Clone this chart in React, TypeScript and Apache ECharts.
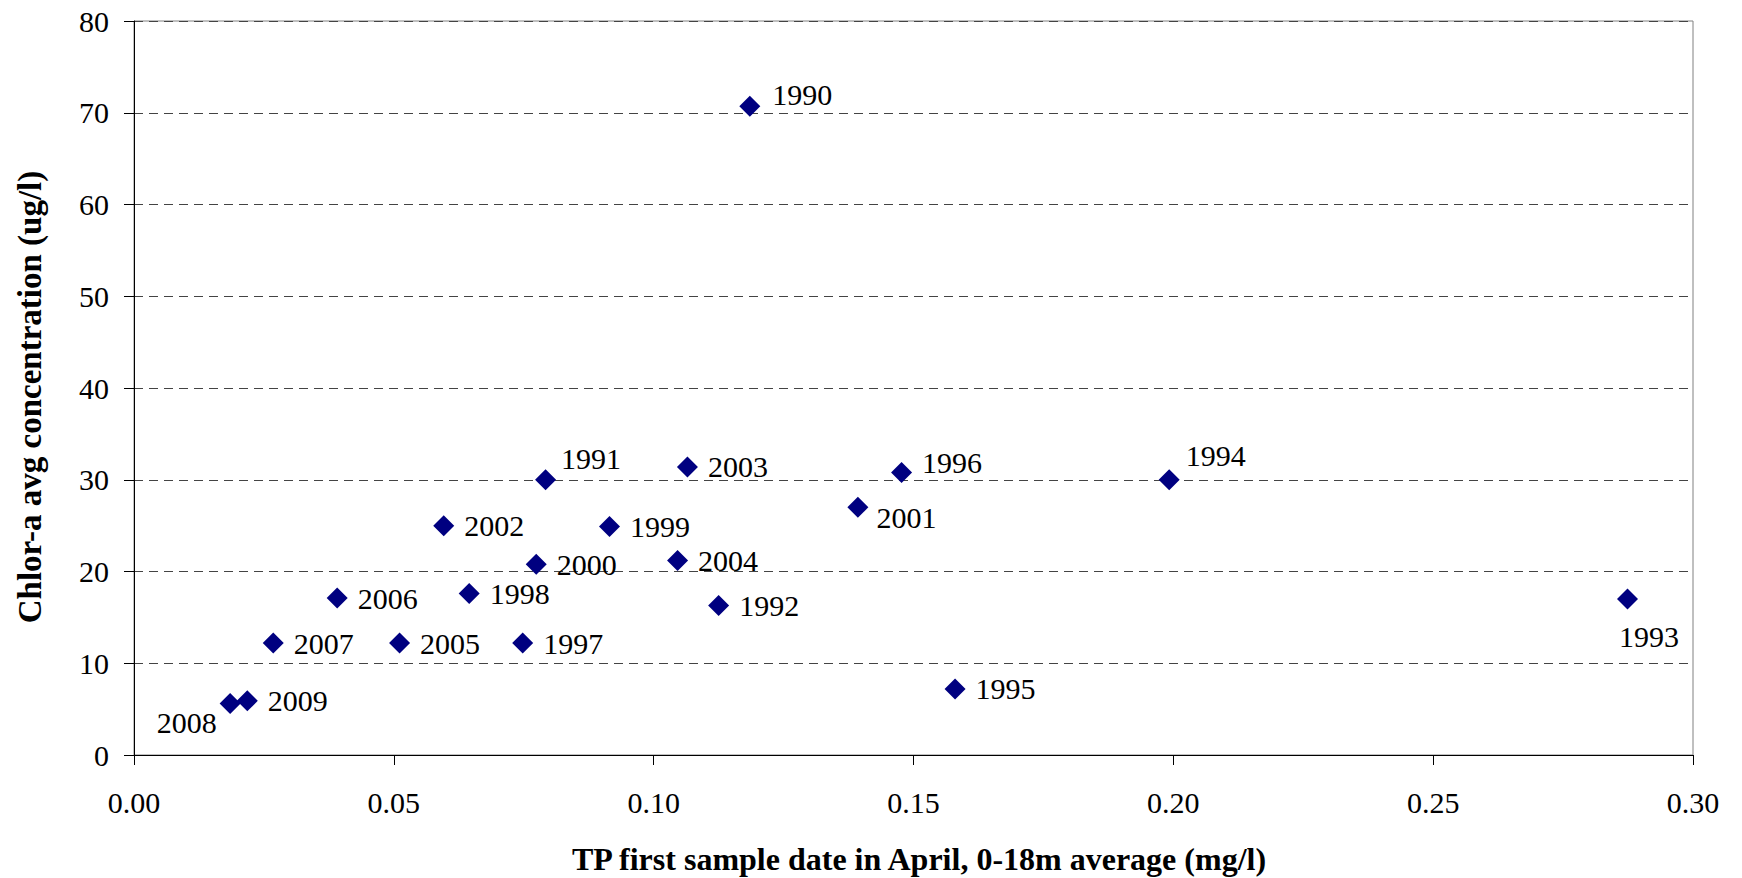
import React, { useEffect, useRef } from "react";
import * as echarts from "echarts";

const years = ["1990","1991","1992","1993","1994","1995","1996","1997","1998","1999","2000","2001","2002","2003","2004","2005","2006","2007","2008","2009"];
const tpValues = [0.1185,0.0792,0.1125,0.2874,0.1992,0.158,0.1477,0.0748,0.0645,0.0915,0.0774,0.1393,0.0596,0.1065,0.1046,0.0511,0.0391,0.0268,0.0185,0.0218];
const chlorValues = [70.7,30.0,16.3,17.0,30.0,7.2,30.8,12.2,17.6,24.9,20.8,27.0,25.0,31.4,21.2,12.2,17.1,12.2,5.6,5.9];
const xTitle = "TP first sample date in April, 0-18m average (mg/l)";
const yTitle = "Chlor-a avg concentration (ug/l)";

const FONT = "'Liberation Serif', 'Times New Roman', serif";

// label placement tweaks per year (position, distance, offset)
const labelTweaks: Record<string, any> = {
  "1990": { position: "right", distance: 12, offset: [0, -12] },
  "1991": { position: "right", distance: 5, offset: [0, -21] },
  "1994": { position: "right", distance: 6, offset: [0, -24] },
  "1996": { position: "right", distance: 10, offset: [0, -10] },
  "2001": { position: "right", distance: 8, offset: [0, 10] },
  "2008": { position: "left", distance: 3, offset: [0, 19] },
  "1993": { position: "right", distance: 10, offset: [-29, 37] },
};

export default function App() {
  const ref = useRef<HTMLDivElement>(null);
  useEffect(() => {
    if (!ref.current) return;
    const chart = echarts.init(ref.current, undefined, { renderer: "svg" });
    const data = years.map((y, i) => {
      const t = labelTweaks[y];
      const d: any = { value: [tpValues[i], chlorValues[i]], name: y };
      if (t) d.label = { ...t };
      return d;
    });
    chart.setOption({
      animation: false,
      backgroundColor: "#ffffff",
      grid: {
        left: 134, right: 49, top: 21, bottom: 123,
        show: true, borderColor: "#808080", borderWidth: 1, backgroundColor: "transparent",
      },
      xAxis: {
        type: "value", min: 0, max: 0.3, interval: 0.05,
        axisLine: { show: true, onZero: false, lineStyle: { color: "#000", width: 1 } },
        axisTick: { show: true, length: 10, inside: false, lineStyle: { color: "#000" } },
        axisLabel: { margin: 32, color: "#000", fontFamily: FONT, fontSize: 30, formatter: (v: number) => v.toFixed(2) },
        splitLine: { show: false },
      },
      yAxis: {
        type: "value", min: 0, max: 80, interval: 10,
        axisLine: { show: true, lineStyle: { color: "#000", width: 1 } },
        axisTick: { show: true, length: 10, inside: false, lineStyle: { color: "#000" } },
        axisLabel: { margin: 25, color: "#000", fontFamily: FONT, fontSize: 30 },
        splitLine: { show: true, lineStyle: { color: "#444", type: [9, 6], width: 1 } },
      },
      graphic: [
        {
          type: "text", x: 919, y: 859,
          style: { text: xTitle, font: `bold 32px ${FONT}`, fill: "#000", align: "center", verticalAlign: "middle" },
        },
        {
          type: "text", x: 30, y: 397, rotation: Math.PI / 2,
          style: { text: yTitle, font: `bold 33px ${FONT}`, fill: "#000", align: "center", verticalAlign: "middle" },
        },
      ],
      series: [
        {
          type: "scatter",
          symbol: "diamond",
          symbolSize: 21,
          itemStyle: { color: "#000080", opacity: 1 },
          data,
          label: {
            show: true, position: "right", distance: 10,
            formatter: (p: any) => p.name,
            color: "#000", fontFamily: FONT, fontSize: 30,
          },
        },
      ],
    });
    return () => chart.dispose();
  }, []);
  return <div ref={ref} style={{ position: "fixed", left: 0, top: 0, width: 1742, height: 878, background: "#fff" }} />;
}
